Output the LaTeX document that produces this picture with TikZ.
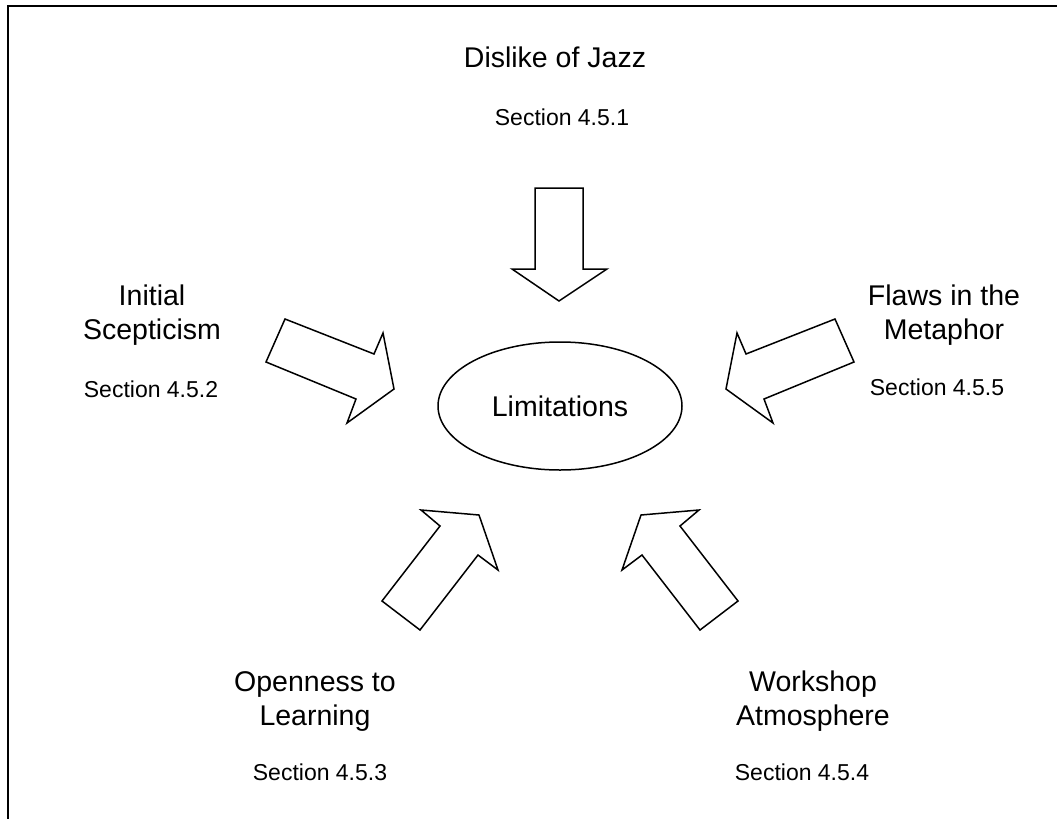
\documentclass[tikz,border=0pt]{standalone}
\usepackage{fontspec}
\setmainfont{Liberation Sans}
\usetikzlibrary{shapes.geometric}

\tikzset{
  heading/.style={font=\fontsize{28.5}{34}\selectfont, align=center, anchor=base, inner sep=0pt},
  secref/.style={font=\fontsize{23}{27}\selectfont, anchor=base, inner sep=0pt},
  blockarrow/.style={draw=black, line width=1.5pt, line join=miter, fill=white},
  hub/.style={ellipse, draw=black, line width=1.5pt, minimum width=244pt, minimum height=128pt,
              inner sep=0pt, font=\fontsize{28.5}{34}\selectfont},
  frameline/.style={draw=black, line width=1.8pt}
}

\begin{document}
\begin{tikzpicture}[x=1pt, y=-1pt]
  \useasboundingbox (0,0) rectangle (1057,819);

  % frame along the top and left edges
  \draw[frameline] (1057,6) -- (8,6) -- (8,819);

  % central topic
  \node[hub] (hub) at (560,406) {Limitations};

  % labels (two-line headings sit on the baseline of their last line)
  \node[heading] (jazz) at (555,67) {Dislike of Jazz};
  \node[secref]  (s1)   at (562,125) {Section 4.5.1};

  \node[heading] (scep) at (152,339) {Initial\\Scepticism};
  \node[secref]  (s2)   at (151,397) {Section 4.5.2};

  \node[heading] (flaw) at (944,339) {Flaws in the\\Metaphor};
  \node[secref]  (s5)   at (937,395) {Section 4.5.5};

  \node[heading] (open) at (315,725) {Openness to\\Learning};
  \node[secref]  (s3)   at (320,780) {Section 4.5.3};

  \node[heading] (work) at (813,725) {Workshop\\Atmosphere};
  \node[secref]  (s4)   at (802,780) {Section 4.5.4};

  % block arrows pointing at the central topic
  % from above
  \draw[blockarrow] (535,188) -- (535,269) -- (512,269) -- (559,301)
                    -- (607,269) -- (583,269) -- (583,188) -- cycle;
  % from the upper left
  \draw[blockarrow] (285,319) -- (374,354) -- (383,333) -- (394,389)
                    -- (347,423) -- (356,399) -- (266,362) -- cycle;
  % from the upper right
  \draw[blockarrow] (835,319) -- (746,354) -- (737,333) -- (726,389)
                    -- (773,423) -- (764,399) -- (854,362) -- cycle;
  % from the lower left
  \draw[blockarrow] (382,601) -- (440,526) -- (421,510) -- (479,515)
                    -- (498,570) -- (478,555) -- (420,630) -- cycle;
  % from the lower right
  \draw[blockarrow] (738,601) -- (680,526) -- (699,510) -- (641,515)
                    -- (622,570) -- (642,555) -- (700,630) -- cycle;
\end{tikzpicture}
\end{document}
